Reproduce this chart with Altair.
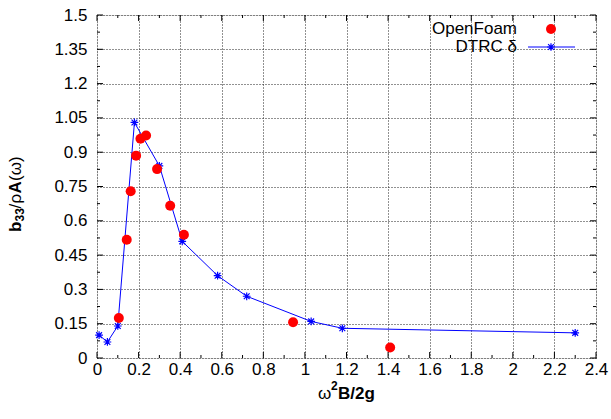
import altair as alt
import pandas as pd

# ---- data ----
dtrc_x = [0.01, 0.05, 0.10, 0.18, 0.30, 0.41, 0.58, 0.72, 1.03, 1.18, 2.30]
dtrc_y = [0.10, 0.07, 0.14, 1.03, 0.84, 0.51, 0.36, 0.27, 0.16, 0.13, 0.11]
of_x = [0.105, 0.143, 0.162, 0.188, 0.209, 0.236, 0.289, 0.352, 0.418, 0.943, 1.41]
of_y = [0.175, 0.517, 0.729, 0.885, 0.959, 0.973, 0.826, 0.666, 0.539, 0.156, 0.046]

x_major = [0, 0.2, 0.4, 0.6, 0.8, 1.0, 1.2, 1.4, 1.6, 1.8, 2.0, 2.2, 2.4]
x_minor = [0.1, 0.3, 0.5, 0.7, 0.9, 1.1, 1.3, 1.5, 1.7, 1.9, 2.1, 2.3]
y_major = [0, 0.15, 0.3, 0.45, 0.6, 0.75, 0.9, 1.05, 1.2, 1.35, 1.5]
y_minor = [0.075, 0.225, 0.375, 0.525, 0.675, 0.825, 0.975, 1.125, 1.275, 1.425]

legend_labels = ["OpenFoam", "DTRC δ"]

W, H = 499, 343
FONT = "Liberation Sans"
FS = 17

dtrc = pd.DataFrame({"x": dtrc_x, "y": dtrc_y, "i": range(len(dtrc_x))})
of = pd.DataFrame({"x": of_x, "y": of_y})

xs = alt.Scale(domain=[0, 2.4], nice=False, zero=False)
ys = alt.Scale(domain=[0, 1.5], nice=False, zero=False)

axis_common = dict(
    grid=True, gridColor="#222", gridDash=[1, 2], gridWidth=1,
    domain=False, ticks=False, labelFont=FONT, labelFontSize=FS,
    labelColor="#000", title=None, format=".3~g", labelOverlap=False,
    labelBound=False, labelFlush=False,
)
x_axis = alt.Axis(values=x_major, tickCount=len(x_major), labelPadding=3, **axis_common)
y_axis = alt.Axis(values=y_major, tickCount=len(y_major), labelPadding=10, **axis_common)


def X(f="x"):
    return alt.X(f"{f}:Q", scale=xs, axis=x_axis)


def Y(f="y"):
    return alt.Y(f"{f}:Q", scale=ys, axis=y_axis)


base_axes = alt.Chart(pd.DataFrame({"x": [0], "y": [0]})).mark_point(opacity=0).encode(
    x=X(), y=Y())


def xticks(vals, length):
    d = pd.DataFrame({"x": vals})
    bot = alt.Chart(d).mark_rule(color="#000", strokeWidth=1).encode(
        x=X(), y=alt.value(H), y2=alt.value(H - length))
    top = alt.Chart(d).mark_rule(color="#000", strokeWidth=1).encode(
        x=X(), y=alt.value(0), y2=alt.value(length))
    return [bot, top]


def yticks(vals, length):
    d = pd.DataFrame({"y": vals})
    left = alt.Chart(d).mark_rule(color="#000", strokeWidth=1).encode(
        y=Y(), x=alt.value(0), x2=alt.value(length))
    right = alt.Chart(d).mark_rule(color="#000", strokeWidth=1).encode(
        y=Y(), x=alt.value(W), x2=alt.value(W - length))
    return [left, right]


ticks = xticks(x_major, 6) + xticks(x_minor, 3) + yticks(y_major, 6) + yticks(y_minor, 3)

ASTER = "M-1,0L1,0M0,-1L0,1M-0.75,-0.75L0.75,0.75M-0.75,0.75L0.75,-0.75"

line = alt.Chart(dtrc).mark_line(color="#0000ff", strokeWidth=1).encode(
    x=X(), y=Y(), order="i:Q")
stars = alt.Chart(dtrc).mark_point(shape=ASTER, color="#0000ff", filled=False,
                                   size=60, strokeWidth=1.2, opacity=1).encode(
    x=X(), y=Y())
dots = alt.Chart(of).mark_circle(color="#ff0000", size=100, opacity=1).encode(
    x=X(), y=Y())

# ---- legend (gnuplot style: text left of key) ----
one = pd.DataFrame({"k": [0]})
leg_t1 = alt.Chart(one).mark_text(text=legend_labels[0], align="right", baseline="middle",
                                  font=FONT, fontSize=FS, color="#000").encode(
    x=alt.value(420), y=alt.value(14))
leg_t2 = alt.Chart(one).mark_text(text=legend_labels[1], align="right", baseline="middle",
                                  font=FONT, fontSize=FS, color="#000").encode(
    x=alt.value(420), y=alt.value(32))
leg_dot = alt.Chart(one).mark_circle(color="#ff0000", size=100, opacity=1).encode(
    x=alt.value(454), y=alt.value(14))
leg_line = alt.Chart(one).mark_rule(color="#0000ff", strokeWidth=1).encode(
    x=alt.value(431), x2=alt.value(478), y=alt.value(32))
leg_star = alt.Chart(one).mark_point(shape=ASTER, color="#0000ff", filled=False,
                                     size=60, strokeWidth=1.2, opacity=1).encode(
    x=alt.value(454), y=alt.value(32))


# ---- axis titles built from pieces (bold / sub / superscripts) ----
def txt(s, x, y, size=FS, bold=False, angle=0, align="left"):
    return alt.Chart(one).mark_text(text=s, align=align, baseline="alphabetic", font=FONT,
                                    fontSize=size, fontWeight="bold" if bold else "normal",
                                    angle=angle, color="#000").encode(
        x=alt.value(x), y=alt.value(y))


ytitle = [
    txt("b", -76, 217, bold=True, angle=270),
    txt("33", -73, 206.5, size=12, bold=True, angle=270),
    txt("/", -76, 193.5, angle=270),
    txt("ρ", -76, 188.5, angle=270),
    txt("A", -76, 178.5, bold=True, angle=270),
    txt("(ω)", -76, 166, angle=270),
]
xtitle = [
    txt("ω", 221, 384),
    txt("2", 234, 375, size=12, bold=True),
    txt("B/2g", 241, 384, bold=True),
]

chart = alt.layer(
    base_axes, *ticks, line, stars, dots,
    leg_t1, leg_t2, leg_line, leg_dot, leg_star,
    *ytitle, *xtitle,
).properties(
    width=W, height=H,
    padding={"left": 97, "top": 15, "right": 15, "bottom": 61},
    autosize="none",
).configure_view(stroke="#000", strokeWidth=1).configure(background="white")

chart.save("out.html", embed_options={"renderer": "svg", "actions": False})
